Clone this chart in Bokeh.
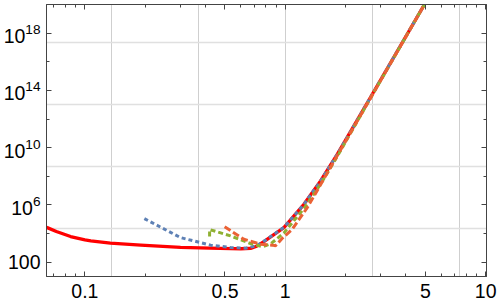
from bokeh.plotting import figure
from bokeh.models import (Range1d, FixedTicker, LogAxis, LogTickFormatter,
                          CustomJSTickFormatter)
from bokeh.embed import file_html
from bokeh.resources import INLINE

# ---- data ----
red_x = [0.0644, 0.072, 0.0848, 0.1, 0.107, 0.134, 0.19, 0.30, 0.42, 0.533,
         0.60, 0.671, 0.72, 0.782, 0.984, 1.239, 1.50, 1.82, 2.75, 4.95]
red_y = [2.7e4, 1.4e4, 6.2e3, 3.6e3, 3.1e3, 2.15e3, 1.55e3, 1.1e3, 950, 890,
         870, 910, 1.3e3, 2.75e3, 2.6e4, 1.1e6, 4.7e7, 3.5e9, 7.1e13, 1.0e20]

blue_x = [0.198, 0.30, 0.424, 0.533, 0.633, 0.72, 0.782, 0.984, 1.239, 1.50,
          1.82, 2.75, 4.95]
blue_y = [1.1e5, 5.2e3, 1.55e3, 1.05e3, 950, 1.4e3, 2.9e3, 2.7e4, 1.1e6,
          4.7e7, 3.5e9, 7.1e13, 1.0e20]

green_x = [0.419, 0.419, 0.533, 0.671, 0.77, 0.85, 0.984, 1.239, 1.50, 1.82,
           2.75, 4.95]
green_y = [6.2e3, 1.9e4, 6.9e3, 2.0e3, 1.2e3, 2.0e3, 1.1e4, 5.6e5, 2.8e7,
           2.5e9, 6.3e13, 1.0e20]

orange_x = [0.498, 0.621, 0.754, 0.861, 0.894, 0.966, 1.084, 1.288, 1.471,
            1.716, 2.75, 4.95]
orange_y = [3.0e4, 4.0e3, 1.8e3, 1.55e3, 1.4e3, 4.7e3, 2.0e4, 6.5e5, 1.6e7,
            6.9e8, 6.3e13, 1.0e20]

x_major = [0.1, 0.5, 1, 5, 10]
x_minor = [0.07, 0.08, 0.09, 0.2, 0.3, 0.4, 0.6, 0.7, 0.8, 0.9,
           2, 3, 4, 6, 7, 8, 9]
y_major = [1e2, 1e6, 1e10, 1e14, 1e18]
y_minor = [1e4, 1e8, 1e12, 1e16]
x_grid = [0.1353, 0.3679, 1.0, 2.7183, 7.389]
y_grid = [2.2026e4, 4.8517e8, 1.0686e13, 2.3539e17]

FONT = "Liberation Sans"

p = figure(width=498, height=306, x_axis_type="log", y_axis_type="log",
           x_range=Range1d(0.0643, 10.1), y_range=Range1d(10, 1e20),
           output_backend="svg", toolbar_location=None,
           min_border_left=46, min_border_right=12, min_border_top=4,
           min_border_bottom=30)
p.background_fill_color = "white"
p.border_fill_color = "white"
p.outline_line_color = "#444444"


def style_axis(ax, ticks, minor, show_labels):
    ax.ticker = FixedTicker(ticks=ticks, minor_ticks=minor)
    ax.axis_line_color = "#444444"
    ax.major_tick_line_color = "#444444"
    ax.minor_tick_line_color = "#444444"
    ax.major_tick_in = 5
    ax.major_tick_out = 0
    ax.minor_tick_in = 3
    ax.minor_tick_out = 0
    ax.major_label_text_font = FONT
    ax.major_label_text_font_size = "19.5px"
    ax.major_label_text_color = "black"
    if not show_labels:
        ax.formatter = CustomJSTickFormatter(code="return ''")
        ax.major_label_standoff = 0


xa = p.xaxis[0]
style_axis(xa, x_major, x_minor, True)
xa.formatter = CustomJSTickFormatter(code="return String(tick)")
xa.major_label_standoff = 7

ya = p.yaxis[0]
style_axis(ya, y_major, y_minor, True)
ya.formatter = LogTickFormatter(min_exponent=3)
ya.major_label_standoff = 6

top = LogAxis()
style_axis(top, x_major, x_minor, False)
p.add_layout(top, "above")
right = LogAxis()
style_axis(right, y_major, y_minor, False)
p.add_layout(right, "right")

p.xgrid.ticker = FixedTicker(ticks=x_grid)
p.ygrid.ticker = FixedTicker(ticks=y_grid)
p.xgrid.grid_line_color = "#cfcfcf"
p.xgrid.grid_line_width = 1
p.ygrid.grid_line_color = "#e0e0e0"
p.ygrid.grid_line_width = 1.5

p.line(red_x, red_y, line_color="#FF0000", line_width=3.3, line_join="round")
p.line(blue_x, blue_y, line_color="#5E81B5", line_width=3, line_dash="4 3")
p.line(green_x, green_y, line_color="#8FB032", line_width=3, line_dash="5 3")
p.line(orange_x, orange_y, line_color="#EB6235", line_width=3, line_dash="7 3")

open("out.html", "w").write(file_html(p, INLINE))
